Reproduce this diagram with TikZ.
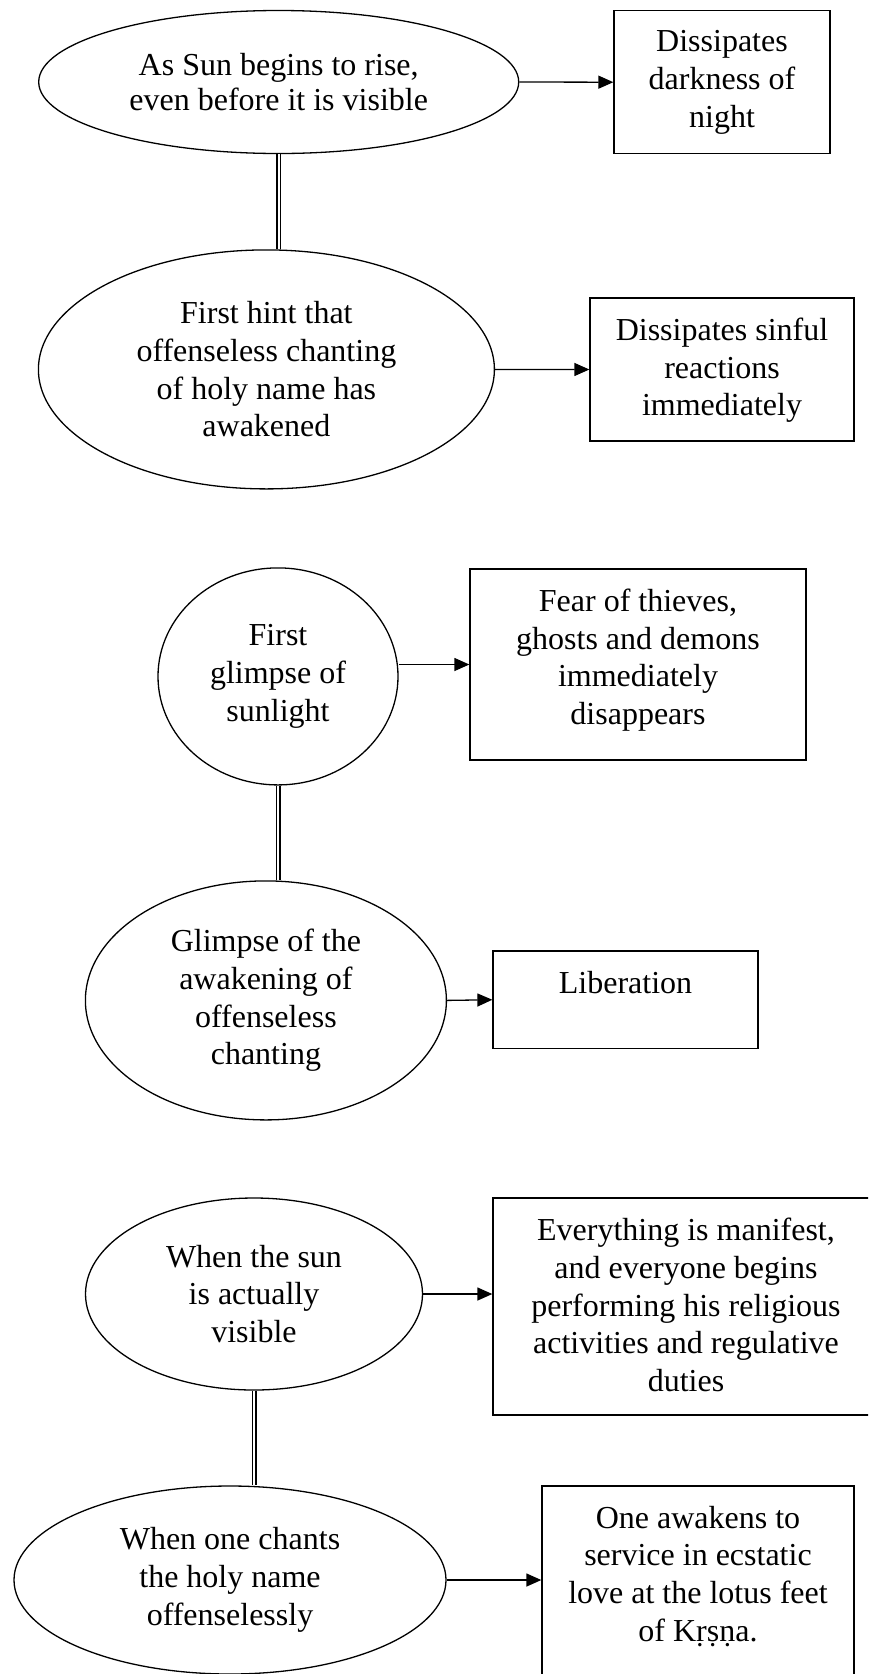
\documentclass[tikz,border=0pt]{standalone}
\usepackage{fontspec}
\setmainfont{Liberation Serif}
\usetikzlibrary{arrows.meta, shapes.geometric}

\begin{document}
\begin{tikzpicture}[x=1pt, y=-1pt,
	every node/.style={font=\fontsize{32}{37.7}\selectfont, align=center},
	sunell/.style={draw, ellipse, line width=1.3pt, inner sep=0pt},
	effbox/.style={draw, rectangle, line width=1.3pt, inner sep=0pt},
	intext/.style={anchor=north, inner sep=0pt, yshift=-20.5pt},
	arr/.style={line width=1.3pt, -{Triangle[length=15pt, width=13pt]}},
	dbl/.style={double, double distance=2.2pt, line width=1.4pt}]
	\path[use as bounding box, clip] (0,0) rectangle (868,1674);
	% causes
	\node[sunell, minimum width=480, minimum height=143, font=\fontsize{32}{35.5}\selectfont] (rise) at (278.7,82)
		{As Sun begins to rise,\\even before it is visible};
	\node[sunell, minimum width=456, minimum height=239] (hint) at (266.4,369.4)
		{First hint that\\offenseless chanting\\of holy name has\\awakened};
	\node[sunell, minimum width=240, minimum height=217] (glimpse) at (278,676.4)
		{First\\glimpse of\\sunlight};
	\node[sunell, minimum width=361, minimum height=239] (awake) at (265.9,1000.4)
		{Glimpse of the\\awakening of\\offenseless\\chanting};
	\node[sunell, minimum width=337, minimum height=192] (visible) at (254,1294)
		{When the sun\\is actually\\visible};
	\node[sunell, minimum width=432, minimum height=188] (chant) at (230,1580)
		{When one chants\\the holy name\\offenselessly};
	% effects
	\node[effbox, minimum width=216, minimum height=143,
		label={[intext]north:Dissipates\\darkness of\\night}] (dark) at (722,82.2) {};
	\node[effbox, minimum width=264, minimum height=143,
		label={[intext]north:Dissipates sinful\\reactions\\immediately}] (sin) at (722,369.5) {};
	\node[effbox, minimum width=336, minimum height=191,
		label={[intext]north:Fear of thieves,\\ghosts and demons\\immediately\\disappears}] (fear) at (638,664.5) {};
	\node[effbox, minimum width=265, minimum height=97.5,
		label={[intext]north:Liberation}] (lib) at (625.5,999.75) {};
	\node[effbox, minimum width=386, minimum height=217,
		label={[intext]north:Everything is manifest,\\and everyone begins\\performing his religious\\activities and regulative\\duties}] (manifest) at (686,1306.5) {};
	\node[effbox, minimum width=312, minimum height=234,
		label={[intext]north:One awakens to\\service in ecstatic\\love at the lotus feet\\of Kṛṣṇa.}] (love) at (698,1603) {};
	% arrows
	\draw[arr] (rise.east) -- (dark.west);
	\draw[arr] (hint.east) -- (sin.west);
	\draw[arr] (glimpse.east |- fear.west) -- (fear.west);
	\draw[arr] (awake.east) -- (lib.west);
	\draw[arr] (visible.east) -- (visible.east -| manifest.west);
	\draw[arr] (chant.east) -- (chant.east -| love.west);
	% double links
	\draw[dbl] (rise.south) -- (rise.south |- hint.north);
	\draw[dbl] (glimpse.south) -- (glimpse.south |- awake.north);
	\draw[dbl] (visible.south) -- (visible.south |- chant.north);
\end{tikzpicture}
\end{document}
